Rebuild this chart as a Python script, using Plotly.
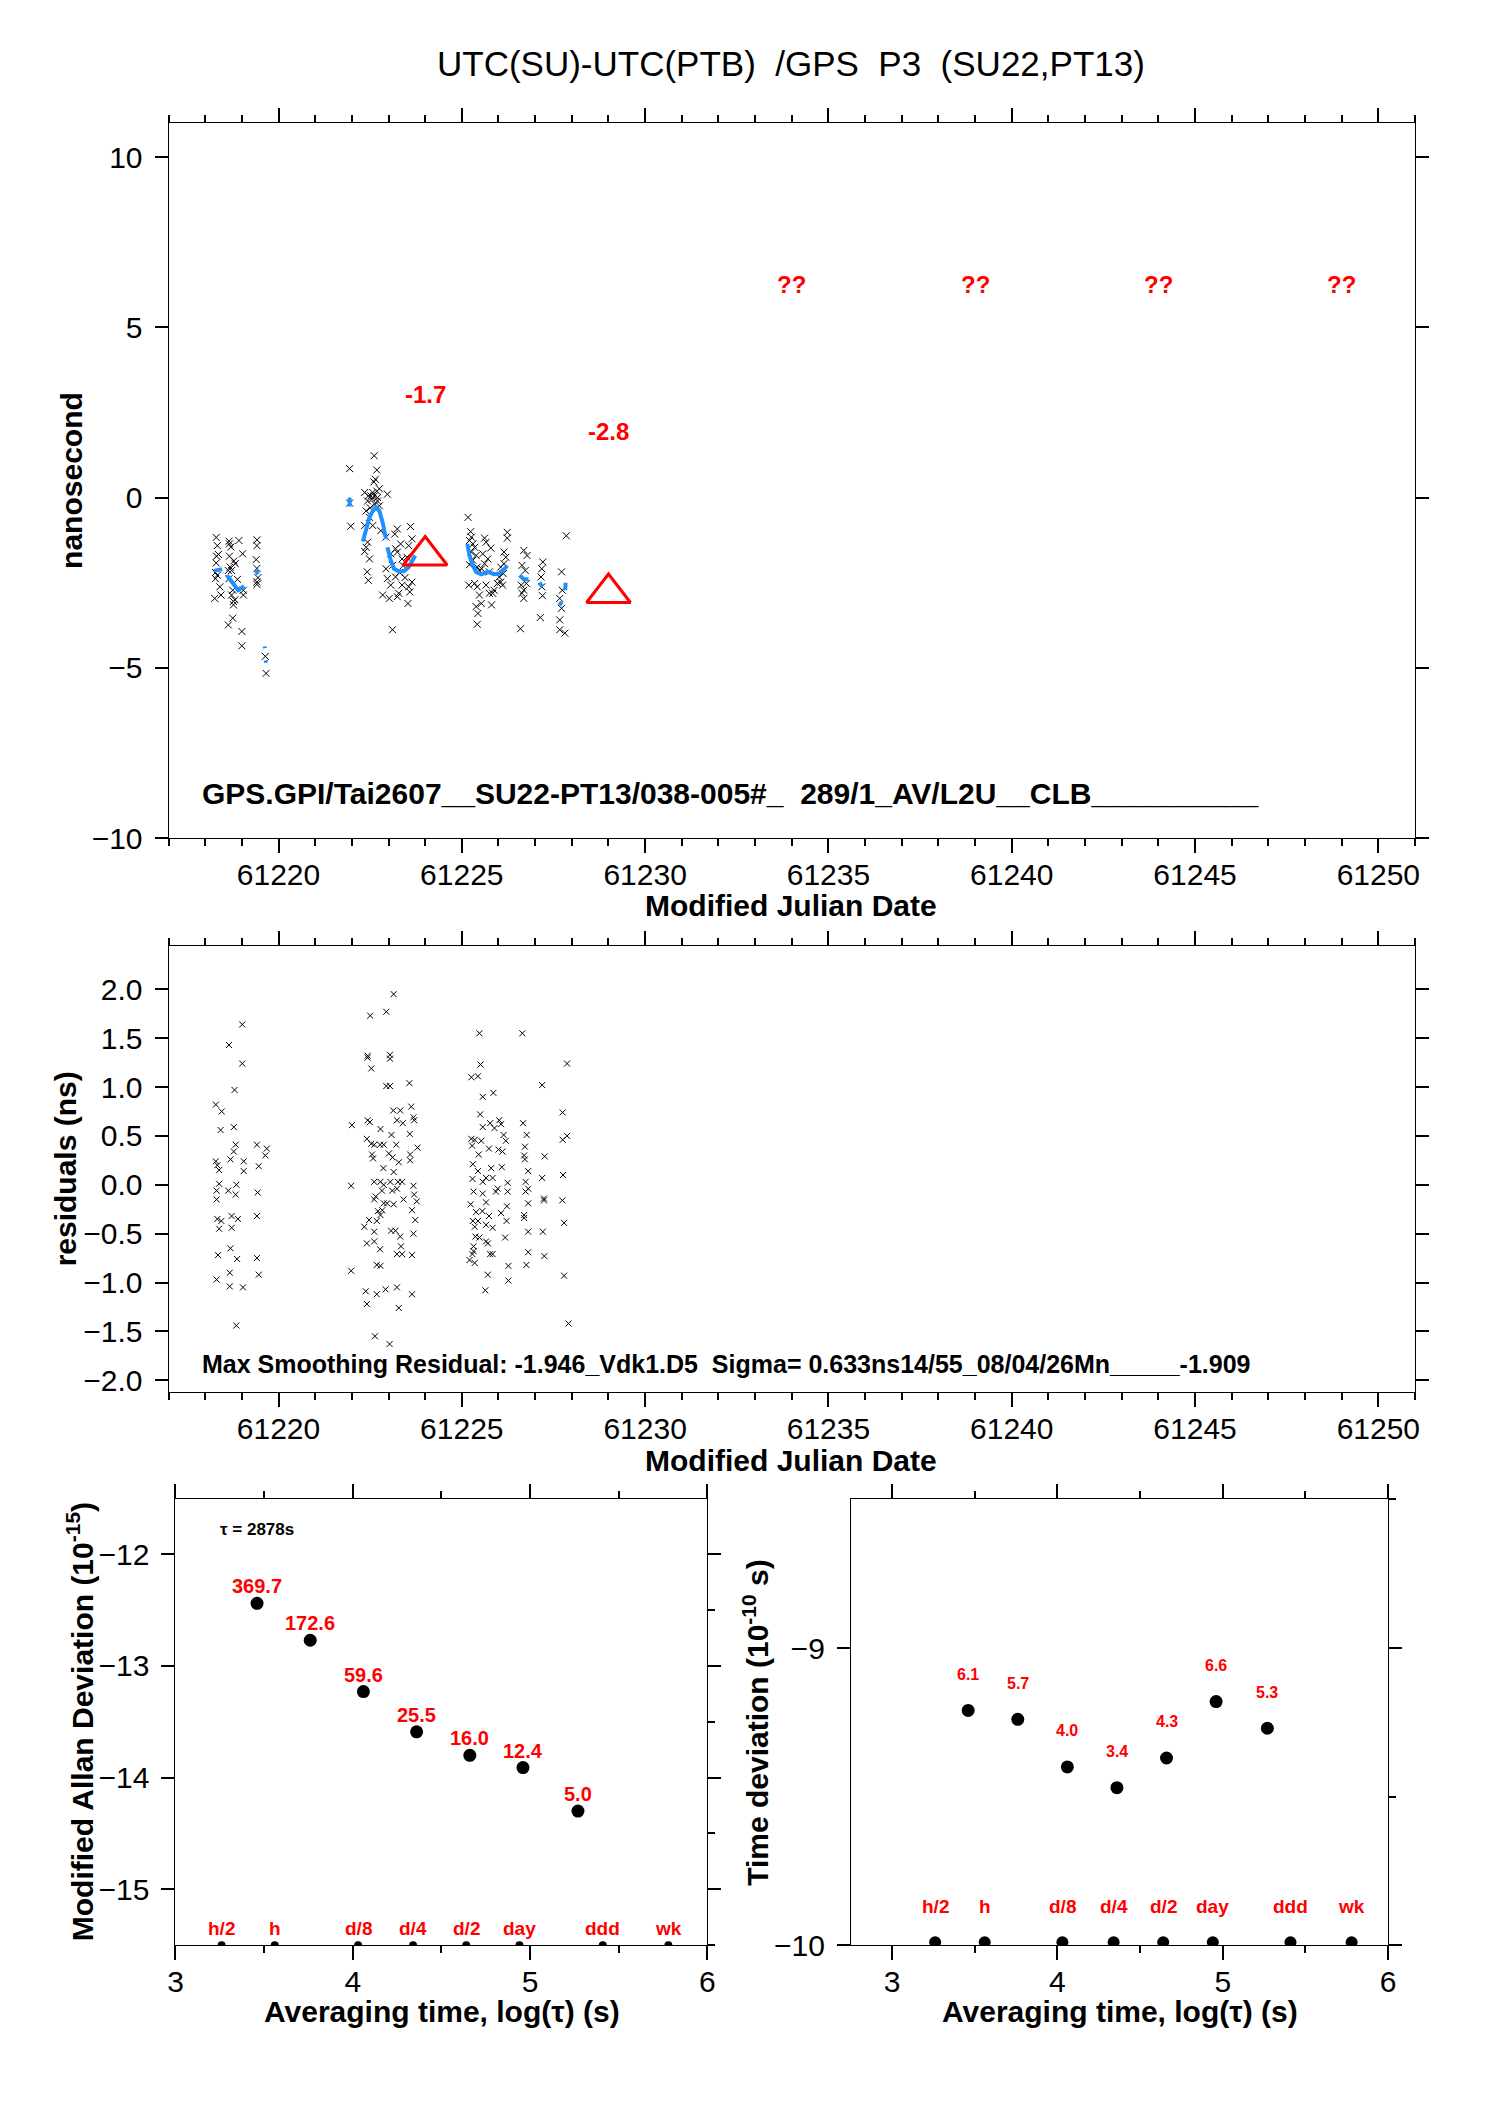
import plotly.graph_objects as go

FONT = "Liberation Sans, Arial, sans-serif"

# ---------------- top panel : UTC(SU)-UTC(PTB) in ns ----------------
# raw GPS P3 points (MJD, ns)
raw_pts = [
    # first day block
    (61218.30, -1.17), (61218.33, -1.41), (61218.36, -1.67), (61218.31, -1.72), (61218.30, -1.92),
    (61218.28, -2.20), (61218.33, -2.28), (61218.28, -2.38), (61218.40, -2.62), (61218.43, -2.86),
    (61218.26, -2.96), (61218.65, -1.28), (61218.66, -1.36), (61218.70, -1.45), (61218.66, -1.72),
    (61218.68, -2.04), (61218.72, -2.14), (61218.82, -1.94), (61218.78, -1.86), (61218.63, -2.14),
    (61218.65, -2.38), (61218.75, -2.72), (61218.72, -2.86), (61218.77, -3.05), (61218.81, -3.00),
    (61218.77, -3.15), (61218.75, -3.54), (61218.63, -3.74), (61218.92, -1.26), (61219.02, -1.65),
    (61218.88, -2.40), (61219.04, -2.72), (61219.04, -2.86), (61219.00, -3.93), (61219.00, -4.35),
    (61219.41, -1.24), (61219.41, -1.41), (61219.39, -1.82), (61219.41, -2.08), (61219.44, -2.35),
    (61219.41, -2.48), (61219.41, -2.55), (61219.64, -4.66), (61219.66, -5.16),
    # second block
    (61222.61, 1.23), (61221.94, 0.85), (61222.68, 0.81), (61222.64, 0.54), (61222.60, 0.46),
    (61222.75, 0.26), (61222.68, 0.19), (61222.57, 0.15), (61222.35, 0.15), (61222.52, 0.05),
    (61222.61, 0.05), (61222.97, 0.10), (61222.43, -0.10), (61222.70, -0.10), (61221.94, -0.16),
    (61222.75, -0.24), (61222.39, -0.39), (61222.48, -0.58), (61222.57, -0.82), (61222.35, -0.82),
    (61221.97, -0.84), (61222.79, -0.97), (61223.24, -0.92), (61223.60, -0.85), (61223.17, -1.07),
    (61222.43, -1.31), (61222.93, -1.16), (61222.39, -1.46), (61222.35, -1.58), (61222.48, -1.80),
    (61223.33, -1.36), (61223.19, -1.50), (61223.24, -1.60), (61223.06, -1.65), (61223.64, -1.21),
    (61223.55, -1.41), (61223.37, -1.80), (61222.93, -2.09), (61223.11, -1.99), (61222.42, -2.18),
    (61222.45, -2.43), (61222.97, -2.38), (61223.19, -2.33), (61223.06, -2.57), (61223.37, -2.57),
    (61223.55, -2.62), (61223.64, -2.48), (61223.58, -2.77), (61222.84, -2.86), (61223.28, -2.81),
    (61223.02, -2.96), (61223.24, -2.91), (61223.53, -3.11), (61223.11, -3.88), (61222.45, 0.05),
    (61222.55, -0.05), (61222.63, -0.20), (61222.50, -0.30), (61222.70, 0.00), (61223.40, -2.00),
    (61223.45, -2.35), (61223.30, -2.20), (61223.50, -1.75),
    # third block
    (61225.17, -0.58), (61225.24, -1.00), (61225.26, -1.16), (61225.21, -1.26), (61225.30, -1.36),
    (61225.35, -1.46), (61225.26, -1.60), (61225.39, -1.70), (61225.30, -1.84), (61225.21, -1.97),
    (61225.42, -2.04), (61225.48, -2.14), (61225.19, -2.57), (61225.35, -2.52), (61225.42, -2.62),
    (61225.48, -2.86), (61225.39, -3.20), (61225.44, -3.40), (61225.42, -3.72), (61225.53, -3.11),
    (61225.62, -1.19), (61225.66, -1.31), (61225.79, -1.48), (61225.57, -1.65), (61225.71, -1.80),
    (61225.62, -1.94), (61225.54, -2.09), (61225.75, -2.18), (61225.66, -2.57), (61225.75, -2.81),
    (61225.81, -3.15), (61225.84, -2.81), (61225.88, -2.72), (61225.97, -2.52), (61226.02, -2.33),
    (61226.06, -2.48), (61226.11, -2.57), (61226.15, -1.60), (61226.20, -1.75), (61226.15, -1.94),
    (61226.06, -2.04), (61226.24, -1.02), (61226.24, -1.19), (61226.13, -2.23), (61226.69, -1.55),
    (61226.78, -1.70), (61226.64, -1.99), (61226.73, -2.14), (61226.62, -2.57), (61226.69, -2.72),
    (61226.64, -2.81), (61226.69, -2.96), (61226.76, -2.52), (61227.21, -1.89), (61227.18, -2.09),
    (61227.16, -2.33), (61227.18, -2.62), (61227.20, -2.88), (61227.14, -3.52), (61226.60, -3.85),
    (61227.85, -1.12), (61227.72, -2.18), (61227.74, -2.72), (61227.67, -2.96), (61227.72, -3.25),
    (61227.67, -3.59), (61227.67, -3.88), (61227.81, -3.98),
]

# smoothed curve pieces (gaps as None)
smooth_pts = [
    (61218.24, -2.15), (61218.46, -2.10), (None, None),
    (61218.59, -2.28), (61218.75, -2.50), (61218.90, -2.72), (61219.06, -2.60), (None, None),
    (61219.38, -2.13), (61219.44, -2.25), (None, None),
    (61219.62, -4.37), (61219.63, -4.42), (None, None),
    (61219.65, -4.78), (61219.66, -4.85), (None, None),
    (61221.94, 0.00), (61221.94, -0.26), (None, None),
    (61222.30, -1.29), (61222.39, -0.92), (61222.48, -0.58), (61222.57, -0.39), (61222.66, -0.29),
    (61222.75, -0.39), (61222.84, -0.73), (61222.93, -1.21), (None, None),
    (61222.97, -1.46), (61223.06, -1.84), (61223.15, -2.09), (61223.28, -2.16), (61223.42, -2.16),
    (61223.55, -2.04), (61223.73, -1.70), (None, None),
    (61225.15, -1.36), (61225.21, -1.70), (61225.30, -1.99), (61225.39, -2.18), (61225.53, -2.25),
    (61225.71, -2.18), (61225.88, -2.25), (61226.02, -2.23), (61226.15, -2.11), (61226.24, -1.99),
    (None, None),
    (61226.58, -2.28), (61226.69, -2.40), (61226.82, -2.40), (None, None),
    (61227.11, -2.50), (61227.20, -2.62), (None, None),
    (61227.83, -2.50), (61227.82, -2.72), (None, None),
    (61227.65, -3.08), (61227.74, -3.14),
]

tri_mjd = [61224, 61229]
tri_ns = [-1.7, -2.8]
tri_lbl = ["-1.7", "-2.8"]
qq_mjd = [61234, 61239, 61244, 61249]
qq_ns = [6.27, 6.27, 6.27, 6.27]

# ---------------- middle panel : residuals (ns) ----------------
res_pts = [
    (61219.01, 1.64), (61218.65, 1.43), (61219.01, 1.24), (61218.80, 0.97), (61218.29, 0.82),
    (61218.45, 0.75), (61218.42, 0.56), (61218.78, 0.59), (61218.83, 0.41), (61218.78, 0.34),
    (61218.69, 0.26), (61218.29, 0.24), (61218.33, 0.20), (61218.38, 0.15), (61219.05, 0.24),
    (61219.05, 0.14), (61219.41, 0.41), (61219.68, 0.37), (61219.64, 0.30), (61219.46, 0.19),
    (61218.38, 0.01), (61218.85, 0.00), (61218.63, -0.06), (61218.83, -0.10), (61218.31, -0.06),
    (61218.31, -0.15), (61219.43, -0.08), (61218.33, -0.35), (61218.44, -0.37), (61218.72, -0.32),
    (61218.89, -0.35), (61218.38, -0.45), (61218.72, -0.44), (61219.41, -0.32), (61218.35, -0.72),
    (61218.69, -0.65), (61218.87, -0.76), (61219.41, -0.75), (61218.31, -0.97), (61218.67, -0.90),
    (61218.67, -1.04), (61219.03, -1.05), (61219.46, -0.92), (61218.85, -1.44),
    (61223.14, 1.95), (61222.50, 1.73), (61222.94, 1.77), (61222.43, 1.32), (61222.43, 1.30),
    (61223.04, 1.33), (61223.04, 1.29), (61222.53, 1.19), (61222.94, 1.01), (61223.04, 1.01),
    (61223.57, 1.04), (61222.00, 0.61), (61222.43, 0.66), (61222.49, 0.64), (61223.13, 0.76),
    (61223.32, 0.76), (61223.62, 0.80), (61223.68, 0.69), (61223.70, 0.66), (61223.23, 0.66),
    (61223.39, 0.63), (61222.78, 0.57), (61223.08, 0.51), (61223.58, 0.52), (61222.41, 0.47),
    (61222.53, 0.42), (61222.61, 0.41), (61222.77, 0.41), (61222.87, 0.41), (61223.21, 0.41),
    (61223.79, 0.38), (61222.55, 0.31), (61222.58, 0.27), (61223.01, 0.32), (61223.11, 0.28),
    (61223.28, 0.23), (61223.59, 0.31), (61223.59, 0.25), (61222.86, 0.17), (61223.14, 0.13),
    (61222.61, 0.03), (61222.78, 0.03), (61222.87, 0.00), (61223.05, 0.03), (61223.26, 0.03),
    (61223.37, 0.03), (61221.98, -0.01), (61223.68, -0.01), (61222.82, -0.06), (61223.10, -0.06),
    (61223.23, -0.04), (61223.70, -0.10), (61222.65, -0.12), (61222.61, -0.15), (61222.87, -0.19),
    (61222.96, -0.19), (61223.14, -0.20), (61223.41, -0.15), (61223.77, -0.17), (61223.64, -0.26),
    (61222.83, -0.26), (61222.78, -0.31), (61222.47, -0.36), (61222.68, -0.37), (61223.73, -0.36),
    (61222.71, -0.27), (61222.34, -0.43), (61222.61, -0.48), (61223.07, -0.47), (61223.19, -0.47),
    (61223.32, -0.53), (61223.68, -0.50), (61222.41, -0.60), (61222.61, -0.58), (61223.34, -0.63),
    (61223.23, -0.71), (61223.37, -0.71), (61223.64, -0.72), (61222.77, -0.66), (61222.68, -0.82),
    (61222.78, -0.83), (61221.98, -0.88), (61222.38, -1.09), (61222.68, -1.12), (61222.92, -1.07),
    (61223.23, -1.05), (61223.64, -1.12), (61222.41, -1.22), (61223.28, -1.26), (61222.63, -1.55),
    (61223.03, -1.63),
    (61225.48, 1.55), (61226.65, 1.55), (61225.51, 1.23), (61225.26, 1.10), (61225.44, 1.11),
    (61227.87, 1.24), (61225.57, 0.90), (61225.86, 0.94), (61227.19, 1.02), (61225.50, 0.72),
    (61226.67, 0.63), (61227.75, 0.74), (61225.57, 0.59), (61225.89, 0.58), (61225.77, 0.63),
    (61226.02, 0.66), (61226.07, 0.62), (61226.77, 0.51), (61226.14, 0.51), (61225.26, 0.47),
    (61225.35, 0.46), (61225.53, 0.45), (61226.20, 0.45), (61226.72, 0.39), (61225.28, 0.40),
    (61225.46, 0.31), (61225.74, 0.37), (61226.00, 0.36), (61226.11, 0.34), (61227.87, 0.50),
    (61227.75, 0.46), (61226.72, 0.26), (61226.70, 0.30), (61227.26, 0.29), (61225.30, 0.21),
    (61225.44, 0.14), (61225.66, 0.07), (61225.84, 0.07), (61225.80, 0.17), (61226.09, 0.18),
    (61226.81, 0.14), (61227.19, 0.07), (61227.76, 0.10), (61225.29, 0.06), (61225.57, 0.03),
    (61226.25, 0.02), (61226.74, 0.03), (61225.98, -0.04), (61225.32, -0.07), (61225.57, -0.09),
    (61225.93, -0.07), (61226.25, -0.07), (61226.81, -0.04), (61227.24, -0.14), (61227.24, -0.16),
    (61226.74, -0.07), (61227.74, -0.16), (61225.24, -0.20), (61225.66, -0.18), (61225.39, -0.28),
    (61225.56, -0.27), (61226.07, -0.29), (61226.23, -0.22), (61226.70, -0.31), (61226.81, -0.19),
    (61225.74, -0.32), (61225.30, -0.37), (61225.44, -0.37), (61225.66, -0.41), (61226.22, -0.37),
    (61226.70, -0.34), (61225.35, -0.43), (61225.84, -0.44), (61227.79, -0.39), (61226.81, -0.48),
    (61227.21, -0.48), (61225.37, -0.53), (61225.48, -0.54), (61226.18, -0.54), (61225.66, -0.58),
    (61225.71, -0.60), (61225.77, -0.71), (61225.84, -0.71), (61225.32, -0.63), (61225.32, -0.68),
    (61225.29, -0.71), (61225.21, -0.77), (61225.35, -0.80), (61226.81, -0.69), (61227.25, -0.73),
    (61226.27, -0.83), (61226.76, -0.82), (61225.71, -0.92), (61226.27, -0.98), (61227.79, -0.93),
    (61225.64, -1.08), (61227.91, -1.42),
]

# ---------------- bottom panels : stability ----------------
tau_log = [3.46, 3.76, 4.06, 4.36, 4.66, 4.96, 5.27]
mdev = [-12.44, -12.77, -13.23, -13.59, -13.80, -13.91, -14.30]
mdev_lbl = ["369.7", "172.6", "59.6", "25.5", "16.0", "12.4", "5.0"]
tdev = [-9.21, -9.24, -9.40, -9.47, -9.37, -9.18, -9.27]
tdev_lbl = ["6.1", "5.7", "4.0", "3.4", "4.3", "6.6", "5.3"]
mark_log = [3.26, 3.56, 4.03, 4.34, 4.64, 4.94, 5.41, 5.78]
mark_lbl = ["h/2", "h", "d/8", "d/4", "d/2", "day", "ddd", "wk"]
mark_mdev = [-15.5, -15.5, -15.5, -15.5, -15.5, -15.5, -15.5, -15.5]
mark_tdev = [-9.99, -9.99, -9.99, -9.99, -9.99, -9.99, -9.99, -9.99]

W, H = 1488, 2105


def px(x):
    return x / W


def py(y):
    return 1 - y / H


X_TOP = [px(162.3), px(1422.3)]
X_BL = [px(169.3), px(707)]
X_BR = [px(852), px(1395)]
Y_TOP = [py(845), py(124)]
Y_MID = [py(1403.3), py(954)]
Y_BOT = [py(1961), py(1511.7)]

fig = go.Figure()

xmark = dict(symbol="x-thin-open", size=7, color="black", line=dict(width=1, color="black"))
fig.add_trace(go.Scatter(x=[p[0] for p in raw_pts], y=[p[1] for p in raw_pts], mode="markers",
                         marker=xmark, xaxis="x", yaxis="y"))
fig.add_trace(go.Scatter(x=[p[0] for p in smooth_pts], y=[p[1] for p in smooth_pts], mode="lines",
                         line=dict(color="#1e90ff", width=4), connectgaps=False,
                         xaxis="x", yaxis="y"))
fig.add_trace(go.Scatter(x=tri_mjd, y=tri_ns, mode="markers",
                         marker=dict(symbol="triangle-up-open", size=38, color="red",
                                     line=dict(width=3, color="red")),
                         xaxis="x", yaxis="y"))

fig.add_trace(go.Scatter(x=[p[0] for p in res_pts], y=[p[1] for p in res_pts], mode="markers",
                         marker=dict(xmark, size=6), xaxis="x2", yaxis="y2"))

fig.add_trace(go.Scatter(x=tau_log, y=mdev, mode="markers",
                         marker=dict(size=13, color="black"), xaxis="x3", yaxis="y3"))
fig.add_trace(go.Scatter(x=mark_log, y=mark_mdev, mode="markers",
                         marker=dict(size=8, color="black"), xaxis="x3", yaxis="y3"))
fig.add_trace(go.Scatter(x=tau_log, y=tdev, mode="markers",
                         marker=dict(size=13, color="black"), xaxis="x4", yaxis="y4"))
fig.add_trace(go.Scatter(x=mark_log, y=mark_tdev, mode="markers",
                         marker=dict(size=12, color="black"), xaxis="x4", yaxis="y4"))
# empty traces so the right-hand tick axes get drawn
fig.add_trace(go.Scatter(x=[], y=[], xaxis="x3", yaxis="y5"))
fig.add_trace(go.Scatter(x=[], y=[], xaxis="x4", yaxis="y6"))

tickfont = dict(family=FONT, size=30, color="black")
axis = dict(showline=True, linecolor="black", linewidth=1, showgrid=False, zeroline=False,
            ticks="outside", tickcolor="black", tickwidth=1.5, ticklen=14, tickfont=tickfont)
minor = dict(ticks="outside", ticklen=7, tickwidth=1.5, tickcolor="black", showgrid=False)

mjd_axis = dict(axis, range=[61217, 61251], dtick=5, tick0=61220, tickformat="d",
                mirror="ticks", minor=dict(minor, dtick=1), ticklabelstandoff=-4)
log_axis = dict(axis, dtick=1, tick0=0, mirror="ticks", minor=dict(minor, dtick=0.5),
                ticklabelstandoff=-4)
left_y = dict(axis, ticklen=13, ticklabelstandoff=6)
right_y = dict(axis, ticklen=13, side="right", showticklabels=False,
               minor=dict(minor, dtick=0.5))

fig.update_layout(
    width=W, height=H, margin=dict(l=0, r=0, t=0, b=0),
    paper_bgcolor="white", plot_bgcolor="white", showlegend=False,
    font=dict(family=FONT, color="black"),
    xaxis=dict(mjd_axis, domain=X_TOP, anchor="y"),
    yaxis=dict(left_y, domain=Y_TOP, anchor="x", range=[-10, 11], dtick=5, tick0=0, mirror="ticks"),
    xaxis2=dict(mjd_axis, domain=X_TOP, anchor="y2"),
    yaxis2=dict(left_y, domain=Y_MID, anchor="x2", range=[-2.12, 2.44], dtick=0.5, tick0=0,
                tickformat=".1f", mirror="ticks"),
    xaxis3=dict(log_axis, domain=X_BL, anchor="y3", range=[3, 6]),
    yaxis3=dict(left_y, domain=Y_BOT, anchor="x3", range=[-15.5, -11.51], dtick=1, tick0=0),
    yaxis5=dict(right_y, overlaying="y3", anchor="x3", range=[-15.5, -11.51], dtick=1, tick0=0),
    xaxis4=dict(log_axis, domain=X_BR, anchor="y4", range=[2.75, 6]),
    yaxis4=dict(left_y, domain=Y_BOT, anchor="x4", range=[-10, -8.5], dtick=1, tick0=0),
    yaxis6=dict(right_y, overlaying="y4", anchor="x4", range=[-10, -8.5], dtick=1, tick0=0),
)

ann = []


def paper_text(text, x, y, size, angle=0, bold=True):
    t = "<b>" + text + "</b>" if bold else text
    ann.append(dict(text=t, x=x, y=y, xref="paper", yref="paper", showarrow=False,
                    xanchor="center", yanchor="middle",
                    textangle=angle, font=dict(family=FONT, size=size, color="black")))


def data_text(text, x, y, xr, yr, size, color="red", yshift=0, xanchor="center"):
    ann.append(dict(text="<b>" + text + "</b>", x=x, y=y, xref=xr, yref=yr, showarrow=False,
                    yshift=yshift, xanchor=xanchor, yanchor="middle",
                    font=dict(family=FONT, size=size, color=color)))


paper_text("UTC(SU)-UTC(PTB)\u00a0\u00a0/GPS\u00a0\u00a0P3\u00a0\u00a0(SU22,PT13)",
           px(792), py(64), 35, bold=False)
paper_text("Modified Julian Date", px(792), py(913), 30)
paper_text("Modified Julian Date", px(792), py(1472), 30)
paper_text("nanosecond", px(64), py(484.5), 30, angle=-90)
paper_text("residuals (ns)", px(59), py(1178.5), 30, angle=-90)
paper_text("Averaging time, log(\u03c4) (s)", px(439), py(2028), 30)
paper_text("Averaging time, log(\u03c4) (s)", px(1124), py(2028), 30)
paper_text("Modified Allan Deviation (10<sup>-15</sup>)", px(73), py(1736), 30, angle=-90)
paper_text("Time deviation (10<sup>-10</sup> s)", px(756), py(1736), 30, angle=-90)

for x, y, t in zip(tri_mjd, tri_ns, tri_lbl):
    data_text(t, x, y, "x", "y", 24, yshift=161)
for x, y in zip(qq_mjd, qq_ns):
    data_text("??", x, y, "x", "y", 24)

data_text("GPS.GPI/Tai2607__SU22-PT13/038-005#_\u00a0\u00a0289/1_AV/L2U__CLB__________",
          61217.85, -8.68, "x", "y", 30, color="black", xanchor="left")
data_text("Max Smoothing Residual: -1.946_Vdk1.D5\u00a0\u00a0Sigma= 0.633ns14/55_08/04/26Mn_____-1.909",
          61217.85, -1.83, "x2", "y2", 25, color="black", xanchor="left")

data_text("\u03c4 = 2878s", 3.24, -11.78, "x3", "y3", 17, color="black", xanchor="left")
for x, y, t in zip(tau_log, mdev, mdev_lbl):
    data_text(t, x, y, "x3", "y3", 20, yshift=17)
for x, y, t in zip(mark_log, mark_mdev, mark_lbl):
    data_text(t, x, y, "x3", "y3", 19, yshift=17)
for x, y, t in zip(tau_log, tdev, tdev_lbl):
    data_text(t, x, y, "x4", "y4", 16, yshift=36)
for x, y, t in zip(mark_log, mark_tdev, mark_lbl):
    data_text(t, x, y, "x4", "y4", 19, yshift=36)

fig.update_layout(annotations=ann)
fig.write_html("out.html", config={"displayModeBar": False},
               post_script="document.body.style.margin='0';")
